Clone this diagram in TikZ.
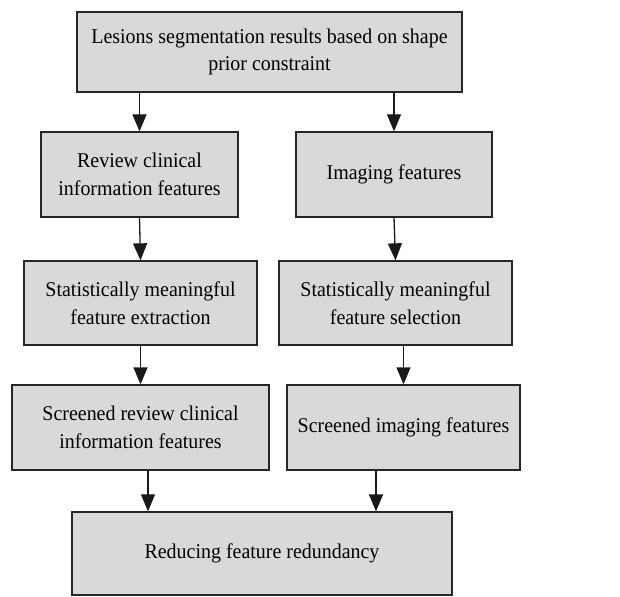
\documentclass[tikz,border=0pt]{standalone}
\usepackage{fontspec}
\setmainfont{Liberation Serif}[FakeStretch=0.95]
\usetikzlibrary{arrows.meta}
\definecolor{boxfill}{RGB}{217,217,217}
\begin{document}
\begin{tikzpicture}[x=1pt,y=-1pt,
  box/.style={draw=black!85, line width=1.3pt, fill=boxfill, align=center, inner sep=0pt,
    font=\fontsize{21}{27.5}\selectfont},
  arr/.style={line width=1.3pt, draw=black!90, -{Triangle[length=17pt,width=14pt]}}]
\useasboundingbox (0,0) rectangle (620,596);
\node[box, minimum width=385pt, minimum height=80pt] (top) at (269.5,52) {Lesions segmentation results based on shape\\prior constraint};
\node[box, minimum width=197pt, minimum height=85pt] (rev) at (139.5,174.5) {Review clinical\\information features};
\node[box, minimum width=196pt, minimum height=85pt] (img) at (394,174.5) {Imaging features};
\node[box, minimum width=233pt, minimum height=84pt] (sx) at (140.5,303) {Statistically meaningful\\feature extraction};
\node[box, minimum width=233pt, minimum height=84pt] (ss) at (395.5,303) {Statistically meaningful\\feature selection};
\node[box, minimum width=257pt, minimum height=85pt] (sr) at (140.5,427.5) {Screened review clinical\\information features};
\node[box, minimum width=233pt, minimum height=85pt] (si) at (403.5,427.5) {Screened imaging features};
\node[box, minimum width=380pt, minimum height=83pt] (bot) at (262,553.5) {Reducing feature redundancy};
\draw[arr] (rev.north |- top.south) -- (rev.north);
\draw[arr] (img.north |- top.south) -- (img.north);
\draw[arr] (rev.south) -- (sx.north);
\draw[arr] (img.south) -- (ss.north);
\draw[arr] (sx.south) -- (sr.north);
\draw[arr] (si.north |- ss.south) -- (si.north);
\draw[arr] ([xshift=7.5pt]sr.south) -- ([xshift=7.5pt]sr.south |- bot.north);
\draw[arr] ([xshift=-27.5pt]si.south) -- ([xshift=-27.5pt]si.south |- bot.north);
\end{tikzpicture}
\end{document}
